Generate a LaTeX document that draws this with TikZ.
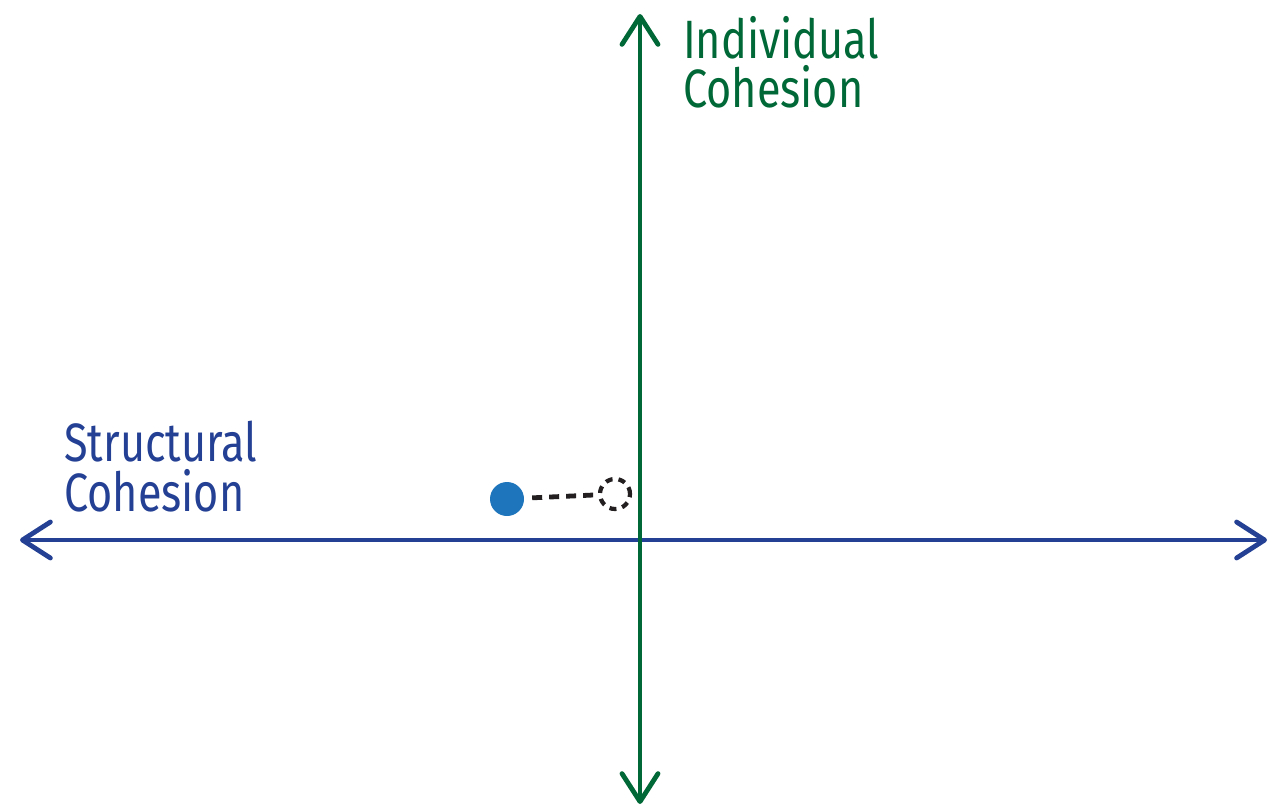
\documentclass[tikz,border=0pt]{standalone}
\usepackage{fontspec}
\setmainfont{Fira Sans}[FakeStretch=0.8]
\usetikzlibrary{arrows.meta}
\definecolor{axisblue}{RGB}{35,64,148}
\definecolor{axisgreen}{RGB}{0,104,55}
\definecolor{dotblue}{RGB}{30,117,187}
\definecolor{dashgray}{RGB}{35,31,32}
\tikzset{
  axislabel/.style={font=\fontsize{54}{49.5}\selectfont, align=left, anchor=north west, inner sep=0pt},
}

\begin{document}
\begin{tikzpicture}[x=1pt, y=-1pt, >={Straight Barb[length=28pt,width=36pt,round]}]
  \useasboundingbox (0,0) rectangle (1269,809);
  % axes
  \coordinate (sLeft) at (20,540);
  \coordinate (sRight) at (1267,540);
  \coordinate (iTop) at (640,14);
  \coordinate (iBottom) at (640,804);
  \draw[<->, axisblue, line width=4.8pt] (sLeft) -- (sRight);
  \draw[<->, axisgreen, line width=4.8pt] (iBottom) -- (iTop);
  \node[axislabel, axisgreen] (iLabel) at (683,16) {Individual\\Cohesion};
  \node[axislabel, axisblue] (sLabel) at (64,421) {Structural\\Cohesion};
  % shifted point
  \node[circle, fill=dotblue, minimum size=34pt, inner sep=0pt] (dot) at (507,499) {};
  \node[circle, draw=dashgray, line width=4.2pt, dash pattern=on 7pt off 6pt, minimum size=30pt, inner sep=0pt] (ghost) at (615,494) {};
  \draw[dashgray, line width=4.8pt, dash pattern=on 10pt off 7pt, shorten <=8pt] (dot) -- (ghost);
\end{tikzpicture}
\end{document}
